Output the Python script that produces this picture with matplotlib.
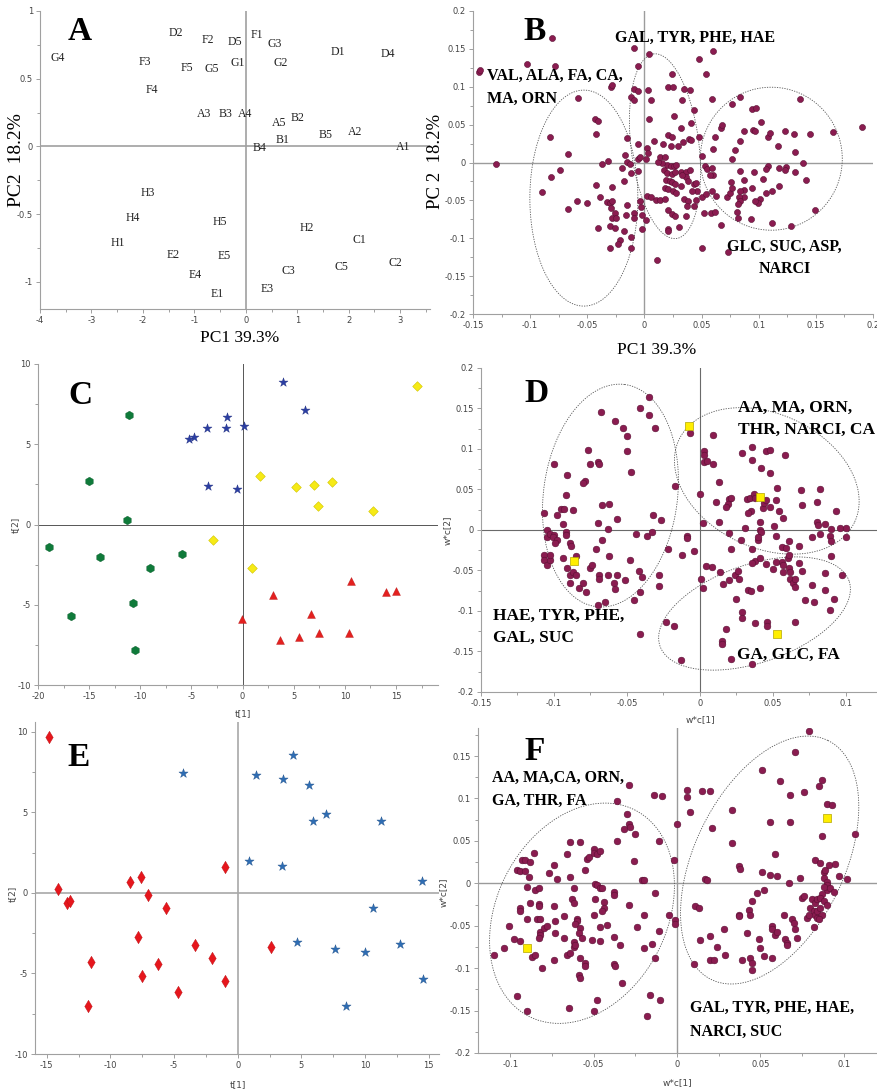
import numpy as np
import matplotlib
matplotlib.use("Agg")
import matplotlib.pyplot as plt
from matplotlib.ticker import MultipleLocator, FuncFormatter

W, H = 878, 1092
SERIF = "Liberation Serif"
SANS = "DejaVu Sans"
MAROON = "#8a1c50"
MAROON_EDGE = "#5a0f33"
YELLOW = "#ffee00"

# ---- panel A: PCA score labels ----
a_labels = ["G4", "D2", "F2", "D5", "F1", "G3", "D1", "D4", "F3", "F5", "G5", "G1", "G2", "F4",
            "A3", "B3", "A4", "A5", "B2", "B5", "A2", "B1", "B4", "A1",
            "H3", "H4", "H1", "H5", "H2", "C1", "C2", "C5", "C3", "E3", "E2", "E5", "E4", "E1"]
a_x = [-3.65, -1.36, -0.73, -0.21, 0.21, 0.56, 1.78, 2.76, -1.96, -1.15, -0.66, -0.16, 0.67, -1.82,
       -0.81, -0.40, -0.01, 0.65, 1.00, 1.55, 2.12, 0.72, 0.26, 3.05,
       -1.90, -2.20, -2.48, -0.50, 1.19, 2.21, 2.90, 1.86, 0.83, 0.41, -1.41, -0.42, -0.98, -0.55]
a_y = [0.65, 0.84, 0.785, 0.77, 0.825, 0.76, 0.70, 0.68, 0.62, 0.58, 0.575, 0.615, 0.615, 0.415,
       0.237, 0.237, 0.242, 0.17, 0.212, 0.084, 0.104, 0.047, -0.01, -0.007,
       -0.346, -0.53, -0.71, -0.56, -0.60, -0.69, -0.864, -0.89, -0.92, -1.05, -0.80, -0.81, -0.95, -1.09]

# ---- panel B: PCA loadings ----
b_x = [-0.081, -0.145, -0.144, -0.103, -0.078, -0.029, -0.028, -0.009, 0.004, -0.006, 0.048, 0.060,
       0.054, 0.024, 0.021, 0.025, -0.009, -0.006, 0.003, -0.012, -0.009, 0.006, 0.035, 0.040, 0.059,
       0.033, -0.058, 0.004, 0.026, 0.043, 0.032, 0.041, 0.021, 0.024, 0.008, 0.016, 0.029, 0.034,
       0.039, 0.041, 0.048, -0.006, -0.015, -0.043, -0.041, -0.042, -0.083, -0.067, -0.074, -0.082,
       -0.090, -0.130, -0.059, -0.067, -0.050, -0.042, -0.037, -0.032, -0.028, -0.039, -0.033, -0.030,
       -0.028, -0.029, -0.026, -0.028, -0.025, -0.030, -0.026, -0.041, -0.030, -0.021, -0.018, -0.023,
       -0.012, -0.012, -0.016, -0.015, -0.018, -0.020, -0.012, -0.015, -0.013, -0.017, -0.006, -0.004,
       0.002, 0.003, 0.001, -0.006, -0.009, -0.009, -0.004, -0.003, -0.002, 0.001, -0.002, 0.002, 0.006,
       0.010, 0.014, 0.018, 0.021, 0.024, 0.027, 0.021, 0.021, 0.030, 0.011, 0.036, 0.035, 0.038, 0.037,
       0.043, 0.045, 0.046, 0.042, 0.043, 0.045, 0.020, 0.023, 0.026, 0.028, 0.015, 0.017, 0.020, 0.024,
       0.027, 0.032, 0.036, 0.040, 0.036, 0.033, 0.019, 0.022, 0.024, 0.027, 0.018, 0.021, 0.025, 0.028,
       0.032, 0.038, 0.012, 0.014, 0.018, 0.023, 0.053, 0.055, 0.050, 0.059, 0.060, 0.057, 0.050, 0.054,
       0.059, 0.052, 0.058, 0.062, 0.050, 0.067, 0.063, 0.072, 0.075, 0.077, 0.076, 0.073, 0.060, 0.062,
       0.067, 0.068, 0.077, 0.084, 0.079, 0.077, 0.084, 0.087, 0.094, 0.098, 0.095, 0.097, 0.102, 0.108,
       0.110, 0.117, 0.123, 0.131, 0.136, 0.145, 0.165, 0.190, 0.132, 0.139, 0.141, 0.149, 0.132, 0.124,
       0.123, 0.118, 0.118, 0.112, 0.112, 0.128, 0.108, 0.106, 0.106, 0.104, 0.101, 0.099, 0.097, 0.096,
       0.094, 0.093, 0.087, 0.087, 0.087, 0.084, 0.083, 0.084, 0.082, 0.081, 0.082, 0.084]
b_y = [0.164, 0.120, 0.122, 0.130, 0.127, 0.100, 0.102, 0.151, 0.143, 0.127, 0.136, 0.147,
       0.117, 0.117, 0.100, 0.100, 0.097, 0.095, 0.096, 0.086, 0.083, 0.082, 0.097, 0.096, 0.084,
       0.082, 0.085, 0.058, 0.061, 0.069, 0.045, 0.052, 0.036, 0.034, 0.028, 0.025, 0.022, 0.027,
       0.031, 0.030, 0.034, 0.025, 0.033, 0.058, 0.055, 0.038, 0.034, 0.011, -0.010, -0.019,
       -0.039, -0.002, -0.051, -0.061, -0.054, -0.030, -0.002, 0.002, -0.032, -0.046, -0.052, -0.054,
       -0.051, -0.060, -0.067, -0.073, -0.073, -0.084, -0.087, -0.087, -0.113, -0.102, -0.090, -0.108,
       -0.113, -0.098, -0.069, -0.056, -0.024, -0.007, -0.014, 0.001, -0.002, 0.010, 0.004, 0.007,
       0.019, 0.012, 0.004, -0.011, -0.067, -0.073, -0.051, -0.059, -0.069, -0.076, -0.088, -0.044, -0.046,
       -0.049, -0.049, -0.048, -0.063, -0.068, -0.071, -0.088, -0.091, -0.085, -0.129, -0.071, -0.048,
       -0.051, -0.057, -0.057, -0.049, -0.038, -0.037, -0.029, -0.027, -0.003, -0.005, -0.004, -0.003,
       -0.001, -0.010, -0.014, -0.015, -0.012, -0.013, -0.012, -0.010, -0.019, -0.016, -0.023, -0.025,
       -0.026, -0.029, -0.034, -0.035, -0.038, -0.040, -0.031, -0.025, 0.001, 0.007, 0.007, 0.022,
       -0.004, -0.009, 0.009, -0.007, -0.016, -0.017, -0.045, -0.041, -0.038, -0.067, -0.067, -0.065,
       -0.113, -0.083, -0.044, -0.045, -0.040, -0.034, -0.026, -0.118, 0.018, 0.034, 0.045, 0.050,
       0.077, 0.086, 0.016, 0.004, 0.028, 0.041, 0.071, 0.072, 0.043, 0.041, 0.054, 0.034, 0.039,
       0.022, 0.041, 0.038, 0.084, 0.038, 0.040, 0.047, 0.014, 0.000, -0.023, -0.063, -0.013, -0.006,
       -0.010, -0.007, -0.031, -0.038, -0.080, -0.084, -0.005, -0.009, -0.040, -0.022, -0.048, -0.054,
       -0.051, -0.012, -0.034, -0.075, -0.036, -0.023, -0.045, -0.038, -0.045, -0.051, -0.055, -0.066,
       -0.073, -0.011]

# ---- panel C: OPLS-DA scores, four groups ----
c_green_x = [-11.1, -15.05, -11.28, -18.95, -13.97, -9.03, -5.91, -16.74, -10.72, -10.53]
c_green_y = [6.82, 2.74, 0.27, -1.39, -2.04, -2.70, -1.81, -5.68, -4.86, -7.80]
c_blue_x = [3.93, 6.14, -1.53, -1.66, -3.44, 0.10, -5.23, -4.74, -3.38, -0.58]
c_blue_y = [8.88, 7.15, 6.67, 6.03, 5.99, 6.11, 5.30, 5.43, 2.39, 2.20]
c_yellow_x = [17.09, 1.66, 5.26, 6.99, 8.74, 7.38, 12.74, -2.92, 0.94]
c_yellow_y = [8.65, 3.01, 2.35, 2.45, 2.62, 1.14, 0.85, -0.94, -2.74]
c_red_x = [10.6, 13.97, 14.95, 3.02, 6.69, -0.03, 3.61, 5.56, 7.51, 10.4]
c_red_y = [-3.53, -4.20, -4.12, -4.39, -5.55, -5.86, -7.21, -7.03, -6.78, -6.78]

# ---- panel D: OPLS-DA loadings ----
d_x = [-0.035, -0.041, -0.035, -0.031, -0.068, -0.058, -0.053, -0.050, -0.050, -0.047, -0.077, -0.070,
       -0.069, -0.075, -0.100, -0.091, -0.079, -0.080, -0.092, -0.107, -0.098, -0.095, -0.093, -0.087,
       -0.094, -0.092, -0.092, -0.105, -0.105, -0.103, -0.100, -0.101, -0.098, -0.099, -0.107, -0.107,
       -0.105, -0.103, -0.103, -0.089, -0.088, -0.094, -0.091, -0.089, -0.089, -0.087, -0.085, -0.085,
       -0.083, -0.080, -0.078, -0.075, -0.074, -0.071, -0.070, -0.067, -0.062, -0.067, -0.063, -0.057,
       -0.062, -0.069, -0.069, -0.063, -0.057, -0.059, -0.058, -0.065, -0.070, -0.051, -0.048, -0.044,
       -0.042, -0.040, -0.041, -0.045, -0.041, -0.036, -0.033, -0.032, -0.027, -0.017, -0.028, -0.028,
       -0.022, -0.023, -0.018, -0.013, -0.012, -0.009, -0.009, -0.004, -0.007,
       0.009, 0.003, 0.003, 0.003, 0.005, 0.009, 0.000, 0.002, 0.013, 0.011, 0.013, 0.020, 0.021, 0.019,
       0.018, 0.020, 0.021, 0.028, 0.029, 0.036, 0.036, 0.045, 0.048, 0.042, 0.048, 0.058, 0.032, 0.034,
       0.037, 0.038, 0.043, 0.044, 0.045, 0.035, 0.033, 0.031, 0.041, 0.041, 0.042, 0.040, 0.040, 0.036,
       0.048, 0.053, 0.052, 0.054, 0.057, 0.051, 0.052, 0.056, 0.061, 0.068, 0.069, 0.070, 0.082, 0.080,
       0.077, 0.080, 0.081, 0.082, 0.086, 0.090, 0.089, 0.090, 0.096, 0.100, 0.100, 0.093, 0.090,
       0.038, 0.041, 0.045, 0.050, 0.056, 0.057, 0.060, 0.061, 0.062, 0.062, 0.064, 0.065, 0.065, 0.068,
       0.070, 0.061, 0.059, 0.057, 0.072, 0.077, 0.078, 0.086, 0.086, 0.089, 0.092, 0.097, 0.065, 0.046,
       0.046, 0.038, 0.029, 0.029, 0.033, 0.035, 0.041, 0.025, 0.024, 0.027, 0.026, 0.020, 0.016, 0.014,
       0.008, 0.004, 0.001, 0.002, 0.018, 0.015, 0.015, 0.021, 0.036, 0.052, 0.036]
d_y = [0.164, 0.151, 0.142, 0.126, 0.146, 0.135, 0.126, 0.116, 0.097, 0.071, 0.099, 0.084,
       0.082, 0.081, 0.081, 0.068, 0.060, 0.058, 0.043, 0.021, 0.018, 0.026, 0.026, 0.025,
       0.008, -0.002, -0.006, 0.000, -0.009, -0.005, -0.006, -0.009, -0.012, -0.016, -0.031, -0.037,
       -0.043, -0.037, -0.031, -0.016, -0.020, -0.034, -0.047, -0.056, -0.065, -0.052, -0.056, -0.032,
       -0.071, -0.066, -0.076, -0.047, -0.043, -0.024, 0.009, 0.031, 0.032, -0.012, 0.001, 0.014,
       -0.032, -0.056, -0.061, -0.056, -0.056, -0.065, -0.073, -0.089, -0.092, -0.062, -0.037, -0.005,
       -0.051, -0.058, -0.076, -0.087, -0.129, -0.007, -0.003, 0.019, 0.012, 0.054, -0.055, -0.069,
       -0.024, -0.113, -0.118, -0.160, -0.031, -0.007, -0.010, -0.026, 0.120,
       0.117, 0.098, 0.093, 0.084, 0.085, 0.082, 0.045, 0.009, 0.059, 0.034, 0.010, 0.038, 0.040, 0.032,
       0.029, -0.004, -0.024, -0.012, 0.095, 0.102, 0.087, 0.098, 0.099, 0.076, 0.070, 0.093, 0.038, 0.039,
       0.045, 0.039, 0.027, 0.033, 0.037, 0.023, 0.021, 0.002, 0.010, 0.000, -0.003, -0.012, -0.009, -0.023,
       0.029, 0.052, 0.037, 0.023, 0.015, 0.005, -0.008, -0.021, -0.013, -0.020, 0.049, 0.031, 0.051, 0.034,
       -0.009, 0.010, 0.006, -0.005, 0.007, 0.001, -0.008, -0.014, 0.003, 0.002, -0.009, 0.024, -0.032,
       -0.038, -0.035, -0.042, -0.048, -0.039, -0.052, -0.035, -0.047, -0.052, -0.060, -0.065, -0.070, -0.061, -0.041,
       -0.051, -0.031, -0.022, -0.043, -0.087, -0.068, -0.089, -0.053, -0.074, -0.099, -0.085, -0.056, -0.113, -0.113,
       -0.118, -0.115, -0.101, -0.109, -0.074, -0.075, -0.072, -0.085, -0.056, -0.060, -0.051, -0.062, -0.067, -0.052,
       -0.046, -0.045, -0.061, -0.071, -0.122, -0.137, -0.141, -0.159, -0.165, -0.039, -0.041]
d_sq_x = [-0.0075, 0.041, 0.0525, -0.086]
d_sq_y = [0.129, 0.041, -0.129, -0.038]

# ---- panel E: OPLS-DA scores, two groups ----
e_red_x = [-14.83, -14.15, -13.39, -13.19, -8.43, -7.62, -7.05, -5.67, -0.99, -7.81, -3.32, -2.06,
           -6.27, -7.49, -4.73, -0.99, -11.49, -11.72, 2.61]
e_red_y = [9.69, 0.25, -0.64, -0.48, 0.66, 0.97, -0.12, -0.93, 1.61, -2.71, -3.26, -4.07,
           -4.42, -5.14, -6.14, -5.48, -4.28, -7.05, -3.37]
e_blue_x = [-4.31, 1.44, 4.33, 3.55, 5.61, 5.87, 6.92, 11.23, 0.86, 3.45, 14.49, 10.6, 4.62, 7.65,
            10.0, 12.72, 14.57, 8.49]
e_blue_y = [7.44, 7.31, 8.57, 7.05, 6.71, 4.44, 4.90, 4.48, 2.00, 1.65, 0.76, -0.93, -3.06, -3.47,
            -3.68, -3.16, -5.37, -7.02]

# ---- panel F: OPLS-DA loadings ----
f_x = [-0.110, -0.104, -0.101, -0.098, -0.096, -0.090, -0.094, -0.094, -0.096, -0.094, -0.093, -0.091,
       -0.088, -0.091, -0.089, -0.090, -0.088, -0.090, -0.094, -0.086, -0.085, -0.083, -0.083, -0.083,
       -0.084, -0.082, -0.082, -0.082, -0.083, -0.087, -0.085, -0.081, -0.080, -0.078, -0.077, -0.074,
       -0.072, -0.074, -0.073, -0.073, -0.074, -0.068, -0.068, -0.066, -0.064, -0.064, -0.066, -0.064,
       -0.062, -0.062, -0.061, -0.065, -0.062, -0.063, -0.062, -0.060, -0.060, -0.061, -0.058, -0.058,
       -0.059, -0.057, -0.058, -0.059, -0.058, -0.055, -0.055, -0.055, -0.054, -0.053, -0.050, -0.050,
       -0.048, -0.046, -0.051, -0.050, -0.049, -0.049, -0.048, -0.046, -0.045, -0.048, -0.050, -0.046,
       -0.046, -0.044, -0.044, -0.045, -0.042, -0.038, -0.038, -0.038, -0.038, -0.037, -0.036, -0.036,
       -0.034, -0.033, -0.032, -0.030, -0.029, -0.028, -0.029, -0.029, -0.026, -0.025, -0.024, -0.021,
       -0.020, -0.020, -0.020, -0.018, -0.014, -0.009, -0.013, -0.015, -0.013, -0.011, -0.011, -0.016,
       -0.010, -0.005, -0.002, -0.000, -0.001, -0.001,
       0.006, 0.006, 0.008, 0.015, 0.020, 0.021, 0.011, 0.013, 0.014, 0.010, 0.020, 0.020, 0.022, 0.017,
       0.018, 0.024, 0.028, 0.029, 0.033, 0.033, 0.037, 0.037, 0.037, 0.038, 0.039, 0.042, 0.043, 0.044,
       0.044, 0.045, 0.045, 0.045, 0.048, 0.052, 0.049, 0.050, 0.051, 0.051, 0.052, 0.056, 0.056, 0.057,
       0.057, 0.057, 0.059, 0.060, 0.062, 0.059, 0.060, 0.064, 0.067, 0.068, 0.068, 0.065, 0.066, 0.066,
       0.069, 0.070, 0.071, 0.072, 0.071, 0.074, 0.075, 0.076, 0.076, 0.079, 0.078, 0.079, 0.080, 0.081,
       0.082, 0.083, 0.083, 0.082, 0.084, 0.084, 0.084, 0.085, 0.087, 0.087, 0.083, 0.086, 0.088, 0.089,
       0.088, 0.090, 0.090, 0.090, 0.088, 0.087, 0.086, 0.088, 0.090, 0.086, 0.087, 0.085, 0.090, 0.093,
       0.091, 0.095, 0.092, 0.094, 0.097, 0.102, 0.107]
f_y = [-0.085, -0.076, -0.050, -0.066, -0.133, -0.150, -0.029, -0.033, 0.016, 0.015, 0.027, 0.027,
       0.025, 0.015, 0.007, -0.004, -0.023, -0.042, -0.068, 0.036, -0.008, -0.006, -0.024, -0.027,
       -0.042, -0.042, -0.057, -0.061, -0.064, -0.087, -0.084, -0.100, -0.053, -0.050, 0.012, 0.021,
       0.005, -0.027, -0.045, -0.058, -0.090, -0.038, -0.064, 0.034, 0.049, 0.007, -0.084, -0.082,
       -0.075, -0.069, -0.073, -0.147, -0.005, -0.019, -0.023, -0.042, -0.045, -0.048, -0.053, 0.049,
       -0.059, -0.064, -0.088, -0.108, -0.112, 0.016, -0.094, -0.098, 0.029, 0.031, 0.040, 0.036,
       0.034, 0.038, -0.067, -0.037, -0.018, -0.001, -0.002, -0.005, -0.006, -0.137, -0.151, -0.051,
       -0.068, -0.022, -0.029, -0.033, -0.049, -0.010, -0.014, -0.063, -0.095, -0.098, 0.097, 0.050,
       -0.073, -0.117, 0.064, 0.082, 0.070, 0.066, 0.116, -0.025, 0.026, 0.058, -0.052, 0.004,
       0.004, -0.037, -0.076, -0.156, 0.104, 0.103, -0.012, -0.072, -0.088, 0.050, -0.056, -0.132,
       -0.138, -0.037, 0.028, 0.070, -0.043, -0.048,
       0.110, 0.102, 0.084, 0.109, 0.109, 0.065, -0.027, -0.029, -0.067, -0.095, -0.062, -0.090, -0.090, 0.005,
       0.004, -0.075, -0.054, -0.084, 0.086, 0.048, -0.037, -0.039, 0.020, 0.017, -0.090, -0.059, -0.031, -0.037,
       -0.088, -0.094, -0.102, -0.021, -0.011, -0.008, -0.066, -0.076, 0.133, 0.013, -0.086, 0.010, 0.072, -0.050,
       -0.054, -0.088, 0.034, 0.008, 0.121, -0.061, -0.057, -0.037, 0.000, 0.104, 0.072, -0.066, -0.070, -0.073,
       -0.042, -0.047, -0.054, -0.064, 0.155, 0.006, -0.017, -0.015, 0.107, 0.179, -0.041, -0.037, -0.029, -0.019,
       -0.033, -0.023, -0.037, -0.051, -0.041, -0.033, -0.019, 0.115, 0.122, 0.056, 0.027, 0.024, 0.013, 0.016,
       0.006, 0.002, -0.002, -0.008, -0.004, -0.013, -0.017, -0.021, -0.025, -0.029, -0.037, -0.042, 0.093, 0.092,
       0.022, 0.023, -0.006, -0.010, 0.008, 0.005, 0.058]
f_sq_x = [-0.090, 0.090]
f_sq_y = [-0.076, 0.077]


def px_axes(left, top, right, bottom):
    return fig.add_axes([left / W, 1 - bottom / H, (right - left) / W, (bottom - top) / H])


def fig_text(x, y, s, **kw):
    fig.text(x / W, 1 - y / H, s, ha="center", va="center", **kw)


def tick_fmt(v, pos):
    return f"{round(v, 6) + 0:g}"


def style(ax, xlim, ylim, xmaj, ymaj, zero_color="#9c9c9c", zero_lw=1.0):
    ax.set_xlim(*xlim)
    ax.set_ylim(*ylim)
    for s in ["top", "right"]:
        ax.spines[s].set_visible(False)
    for s in ["left", "bottom"]:
        ax.spines[s].set_color("#a0a0a0")
        ax.spines[s].set_linewidth(0.8)
    ax.xaxis.set_major_locator(MultipleLocator(xmaj))
    ax.xaxis.set_minor_locator(MultipleLocator(xmaj / 2))
    ax.yaxis.set_major_locator(MultipleLocator(ymaj))
    ax.yaxis.set_minor_locator(MultipleLocator(ymaj / 2))
    ax.xaxis.set_major_formatter(FuncFormatter(tick_fmt))
    ax.yaxis.set_major_formatter(FuncFormatter(tick_fmt))
    ax.tick_params(which="both", direction="out", color="#a0a0a0", labelcolor="#444444",
                   labelsize=6, width=0.7, pad=2)
    ax.tick_params(which="major", length=3)
    ax.tick_params(which="minor", length=2)
    for lab in ax.get_xticklabels() + ax.get_yticklabels():
        lab.set_family(SANS)
    ax.axhline(0, color=zero_color, lw=zero_lw, zorder=0.5)
    ax.axvline(0, color=zero_color, lw=zero_lw, zorder=0.5)


def ellipse(ax, cx, cy, a, b, ang):
    # a, b are semi-axes in pixels, ang in screen degrees
    t = np.linspace(0, 2 * np.pi, 240)
    th = np.radians(ang)
    ex = a * np.cos(t) * np.cos(th) - b * np.sin(t) * np.sin(th)
    ey = a * np.cos(t) * np.sin(th) + b * np.sin(t) * np.cos(th)
    x0, y0 = ax.transData.transform((0, 0))
    x1, y1 = ax.transData.transform((1, 1))
    ax.plot(cx + ex / (x1 - x0), cy + ey / (y1 - y0), color="#555555", lw=0.6,
            ls=(0, (1.5, 1.5)), zorder=1)


def loadings(ax, x, y, s):
    ax.scatter(x, y, s=s, c=MAROON, edgecolors=MAROON_EDGE, linewidths=0.4, zorder=3)


fig = plt.figure(figsize=(W / 100, H / 100), dpi=100)

# ---------- A ----------
axA = px_axes(40, 11, 430, 309)
style(axA, (-4, 3.58), (-1.2, 1.0), 1, 0.5, zero_color="#a0a0a0", zero_lw=1.2)
axA.xaxis.set_minor_locator(MultipleLocator(0.5))
axA.yaxis.set_minor_locator(MultipleLocator(0.25))
for lab, x, y in zip(a_labels, a_x, a_y):
    axA.text(x, y, lab, ha="center", va="center", fontsize=8.5, family=SERIF, color="#222222")
fig_text(80, 31, "A", fontsize=24, fontweight="bold", family=SERIF)
fig_text(17, 160, "PC2  18.2%", fontsize=14, family=SERIF, rotation=90)
fig_text(240, 338, "PC1 39.3%", fontsize=12.5, family=SERIF)

# ---------- B ----------
axB = px_axes(473, 11, 873, 314)
style(axB, (-0.15, 0.2), (-0.2, 0.2), 0.05, 0.05)
loadings(axB, b_x, b_y, 19)
ellipse(axB, -0.053, -0.047, 54, 108, 0)
ellipse(axB, 0.018, 0.0215, 93, 34, 97)
ellipse(axB, 0.111, 0.005, 71, 71.5, 0)
tb = dict(fontsize=11.5, fontweight="bold", family=SERIF, linespacing=1.55, zorder=5)
axB.text(-0.1375, 0.099, "VAL, ALA, FA, CA,\nMA, ORN", ha="left", va="center", **tb)
axB.text(0.044, 0.165, "GAL, TYR, PHE, HAE", ha="center", va="center", **tb)
axB.text(0.1226, -0.126, "GLC, SUC, ASP,\nNARCI", ha="center", va="center", **tb)
fig_text(535, 32, "B", fontsize=24, fontweight="bold", family=SERIF)
fig_text(436, 161, "PC 2  18.2%", fontsize=13.5, family=SERIF, rotation=90)
fig_text(657, 350, "PC1 39.3%", fontsize=12.5, family=SERIF)

# ---------- C ----------
axC = px_axes(38, 364, 438, 685)
style(axC, (-20, 19.1), (-10, 10), 5, 5, zero_color="#555555", zero_lw=0.7)
axC.scatter(c_green_x, c_green_y, marker="h", s=38, c="#0f7a3a", edgecolors="#0b5e2c",
            linewidths=0.3, zorder=3)
axC.scatter(c_blue_x, c_blue_y, marker="*", s=46, c="#2b3ea3", edgecolors="#1f2e80",
            linewidths=0.3, zorder=3)
axC.scatter(c_yellow_x, c_yellow_y, marker="D", s=24, c="#f6ea16", edgecolors="#cfc300",
            linewidths=0.4, zorder=3)
axC.scatter(c_red_x, c_red_y, marker="^", s=32, c="#e4201f", edgecolors="#b81616",
            linewidths=0.3, zorder=3)
fig_text(80, 396, "C", fontsize=24, fontweight="bold", family=SERIF)
fig_text(15, 525, "t[2]", fontsize=6.5, family=SANS, color="#444444", rotation=90)
fig_text(243, 714, "t[1]", fontsize=6.5, family=SANS, color="#444444")

# ---------- D ----------
axD = px_axes(481, 368, 878, 692)
style(axD, (-0.15, 0.122), (-0.2, 0.2), 0.05, 0.05, zero_color="#6a6a6a", zero_lw=0.8)
loadings(axD, d_x, d_y, 23)
axD.scatter(d_sq_x, d_sq_y, marker="s", s=28, c=YELLOW, edgecolors="#b3a600",
            linewidths=0.5, zorder=4)
ellipse(axD, -0.0613, 0.0425, 112, 67, 82.7)
ellipse(axD, 0.0458, 0.0606, 97, 67, -25)
ellipse(axD, 0.0374, -0.1031, 100, 49, 19)
td = dict(fontsize=12.5, fontweight="bold", family=SERIF, linespacing=1.5, zorder=5)
axD.text(0.026, 0.137, "AA, MA, ORN,\nTHR, NARCI, CA", ha="left", va="center", **td)
axD.text(-0.142, -0.1196, "HAE, TYR, PHE,\nGAL, SUC", ha="left", va="center", **td)
axD.text(0.0255, -0.1546, "GA, GLC, FA", ha="left", va="center", **td)
fig_text(537, 394, "D", fontsize=24, fontweight="bold", family=SERIF)
fig_text(447, 530, "w*c[2]", fontsize=6.5, family=SANS, color="#444444", rotation=90)
fig_text(700, 720, "w*c[1]", fontsize=6.5, family=SANS, color="#444444")

# ---------- E ----------
axE = px_axes(35, 722, 439, 1054)
style(axE, (-15.92, 15.8), (-10, 10.6), 5, 5, zero_color="#a8a8a8", zero_lw=1.2)
axE.scatter(e_red_x, e_red_y, marker="d", s=40, c="#e6161c", edgecolors="#b81014",
            linewidths=0.3, zorder=3)
axE.scatter(e_blue_x, e_blue_y, marker="*", s=48, c="#2e6db4", edgecolors="#22528a",
            linewidths=0.3, zorder=3)
fig_text(79, 758, "E", fontsize=24, fontweight="bold", family=SERIF)
fig_text(12, 894, "t[2]", fontsize=6.5, family=SANS, color="#444444", rotation=90)
fig_text(238, 1085, "t[1]", fontsize=6.5, family=SANS, color="#444444")

# ---------- F ----------
axF = px_axes(478, 728, 877, 1053)
style(axF, (-0.1194, 0.12), (-0.2, 0.183), 0.05, 0.05, zero_color="#9a9a9a", zero_lw=1.0)
loadings(axF, f_x, f_y, 23)
axF.scatter(f_sq_x, f_sq_y, marker="s", s=30, c=YELLOW, edgecolors="#b3a600",
            linewidths=0.5, zorder=4)
ellipse(axF, -0.057, -0.0353, 116, 85, 62.6)
ellipse(axF, 0.0556, 0.0274, 133, 75, 64)
tf = dict(fontsize=11.5, fontweight="bold", family=SERIF, linespacing=1.6, zorder=5)
axF.text(-0.111, 0.111, "AA, MA,CA, ORN,\nGA, THR, FA", ha="left", va="center", **tf)
axF.text(0.008, -0.161, "GAL, TYR, PHE, HAE,\nNARCI, SUC", ha="left", va="center", **tf)
fig_text(535, 752, "F", fontsize=24, fontweight="bold", family=SERIF)
fig_text(443, 892, "w*c[2]", fontsize=6.5, family=SANS, color="#444444", rotation=90)
fig_text(677, 1083, "w*c[1]", fontsize=6.5, family=SANS, color="#444444")

fig.savefig("out.png", dpi=100, facecolor="white")
